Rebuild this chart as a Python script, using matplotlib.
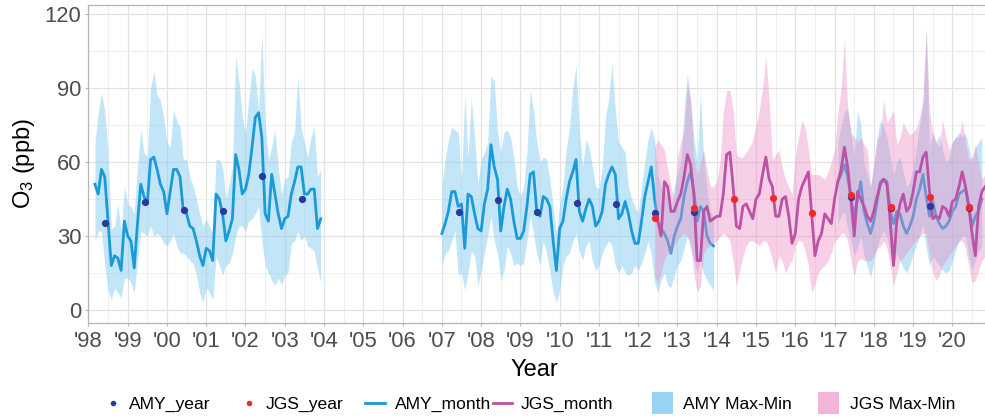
import numpy as np
import matplotlib
matplotlib.use("Agg")
import matplotlib.pyplot as plt
from matplotlib.lines import Line2D
from matplotlib.patches import Rectangle

plt.rcParams['font.family'] = ['Liberation Sans', 'DejaVu Sans']
plt.rcParams['mathtext.fontset'] = 'custom'
plt.rcParams['mathtext.rm'] = 'Liberation Sans'
plt.rcParams['mathtext.it'] = 'Liberation Sans'
plt.rcParams['mathtext.bf'] = 'Liberation Sans'

# ---------------- data ----------------
# AMY monthly, segment 1: Mar 1998 - Dec 2003
amy1_start = (1998, 3)
amy1_mean = [51, 47, 57, 54, 36, 18, 22, 21, 16, 36,
             30, 28, 17, 35, 51, 46, 43, 61, 62, 57, 51, 48,
             39, 48, 57, 57, 54, 40, 39, 34, 33, 28, 22, 18,
             25, 24, 20, 47, 45, 39, 28, 32, 37, 63, 57, 47,
             49, 55, 66, 78, 80, 70, 39, 36, 55, 47, 39, 33,
             37, 38, 47, 52, 58, 58, 47, 47, 49, 49, 33, 37]
amy1_max = [67, 80, 88, 81, 64, 33, 34, 43, 32, 50,
            43, 42, 39, 58, 73, 64, 62, 90, 97, 87, 85, 78,
            68, 66, 81, 77, 74, 61, 61, 54, 50, 45, 39, 34,
            37, 34, 31, 61, 61, 58, 45, 51, 58, 103, 93, 78,
            72, 85, 98, 95, 81, 112, 76, 61, 66, 73, 58, 47,
            53, 54, 68, 72, 95, 74, 68, 62, 70, 74, 54, 57]
amy1_min = [28, 32, 32, 18, 8, 4, 9, 7, 5, 13,
            13, 11, 7, 20, 32, 31, 30, 34, 30, 31, 30, 27,
            26, 28, 31, 26, 23, 23, 22, 20, 19, 14, 7, 3,
            9, 7, 4, 22, 18, 14, 18, 19, 23, 30, 34, 34,
            32, 36, 37, 39, 42, 28, 18, 15, 12, 10, 13, 10,
            14, 15, 27, 28, 32, 28, 30, 26, 25, 24, 17, 11]

# AMY monthly, segment 2: Jan 2007 - Dec 2013
amy2_start = (2007, 1)
amy2_mean = [31, 35, 40, 48, 48, 42, 43, 25, 47, 46, 39, 33,
             32, 43, 49, 67, 58, 53, 32, 42, 49, 45, 36, 29,
             29, 32, 42, 55, 56, 40, 38, 46, 45, 42, 28, 16,
             33, 36, 45, 52, 56, 61, 40, 36, 41, 45, 42, 34,
             36, 40, 51, 55, 58, 55, 37, 39, 44, 39, 32, 27,
             27, 36, 46, 52, 58, 45, 36, 33, 31, 28, 23, 30,
             34, 37, 46, 52, 56, 48, 36, 42, 40, 30, 27, 26]
amy2_max = [50, 61, 69, 74, 73, 72, 53, 87, 62, 86, 70, 51,
            61, 64, 68, 95, 93, 72, 64, 72, 73, 70, 62, 50,
            46, 50, 64, 89, 81, 68, 60, 62, 61, 53, 42, 31,
            43, 50, 65, 74, 90, 99, 73, 58, 69, 66, 58, 50,
            49, 58, 78, 86, 100, 81, 68, 66, 64, 50, 45, 42,
            39, 50, 60, 69, 74, 69, 55, 50, 48, 45, 40, 50,
            55, 60, 80, 96, 85, 70, 60, 88, 62, 50, 40, 38]
amy2_min = [18, 23, 24, 28, 32, 14, 15, 8, 15, 24, 22, 10,
            16, 23, 30, 38, 28, 23, 12, 16, 26, 23, 18, 19,
            18, 19, 28, 38, 31, 23, 18, 28, 23, 16, 7, 3,
            8, 18, 22, 23, 28, 31, 24, 20, 26, 28, 20, 16,
            18, 23, 26, 28, 26, 18, 15, 18, 15, 14, 15, 18,
            16, 19, 23, 28, 23, 11, 7, 12, 15, 10, 9, 14,
            18, 20, 25, 30, 25, 20, 15, 20, 15, 12, 10, 8]

# AMY monthly, segment 3: Feb 2017 - Oct 2020
amy3_start = (2017, 2)
amy3_mean = [52, 55, 59, 54, 45, 38, 45, 52, 40, 35, 31,
             36, 44, 52, 53, 52, 40, 35, 40, 39, 34, 31, 34,
             38, 45, 49, 55, 46, 38, 44, 38, 35, 33, 34, 36,
             40, 42, 47, 48, 49, 42, 34, 38, 40, 45]
amy3_max = [68, 75, 80, 82, 72, 62, 81, 75, 60, 55, 50,
            58, 70, 77, 74, 70, 62, 55, 60, 62, 56, 50, 52,
            58, 66, 75, 85, 113, 66, 72, 68, 71, 65, 60, 62,
            68, 70, 72, 70, 72, 66, 60, 66, 68, 70]
amy3_min = [35, 38, 40, 33, 28, 22, 25, 30, 22, 18, 13,
            20, 25, 30, 32, 30, 22, 18, 23, 20, 17, 15, 18,
            23, 26, 30, 35, 25, 18, 22, 20, 18, 16, 15, 16,
            20, 24, 28, 30, 30, 22, 16, 20, 24, 26]

# JGS monthly: Jun 2012 - Nov 2020
jgs_start = (2012, 6)
jgs_mean = [40, 36, 30, 52, 50, 40, 40,
            44, 47, 54, 63, 59, 47, 20, 20, 40, 42, 36, 37,
            38, 38, 47, 63, 64, 50, 34, 33, 42, 43, 40, 37,
            45, 47, 55, 62, 53, 50, 38, 38, 45, 46, 38, 27,
            31, 45, 50, 53, 56, 39, 22, 28, 31, 39, 37, 35,
            45, 52, 57, 66, 58, 45, 30, 48, 45, 42, 38, 36,
            40, 46, 51, 53, 51, 36, 18, 36, 43, 47, 40, 42,
            48, 56, 56, 62, 64, 48, 37, 38, 37, 42, 41, 38,
            44, 45, 50, 56, 50, 42, 31, 22, 42, 48, 50]
jgs_max = [66, 69, 67, 65, 57, 50, 46,
           62, 68, 73, 92, 85, 62, 55, 60, 65, 57, 50, 50,
           52, 60, 80, 89, 89, 81, 63, 62, 62, 64, 66, 69,
           75, 81, 90, 103, 85, 61, 63, 65, 58, 53, 50, 47,
           62, 70, 77, 74, 65, 55, 55, 55, 54, 53, 56, 60,
           65, 80, 90, 110, 81, 72, 70, 68, 70, 67, 65, 50,
           60, 69, 71, 85, 76, 78, 81, 67, 70, 76, 73, 71,
           72, 74, 78, 85, 115, 80, 72, 68, 66, 77, 70, 65,
           68, 70, 70, 77, 68, 61, 62, 67, 60, 53, 55]
jgs_min = [13.5, 11, 15, 20, 23, 23, 26,
           28, 30, 31, 30, 27, 15, 7, 9.5, 23, 25, 26, 27,
           28, 30, 31, 30, 28, 20, 9.5, 16, 22, 26, 28, 28,
           27, 26, 28, 28, 25, 20, 15, 22, 20, 15, 18, 20,
           26, 28, 28, 24, 18, 7, 10, 15, 17, 18, 20, 23,
           28, 29, 31, 31, 28, 20, 13.5, 20, 21, 20, 20, 20,
           22, 25, 26, 28, 25, 18, 9.5, 15, 20, 21, 23, 25,
           27, 28, 30, 31, 31, 22, 15, 12, 14, 18, 20, 22,
           24, 26, 28, 28, 25, 18, 11, 12, 16, 20, 22]

# yearly means
amy_years = [1998, 1999, 2000, 2001, 2002, 2003,
             2007, 2008, 2009, 2010, 2011, 2012, 2013,
             2017, 2018, 2019, 2020]
amy_year_vals = [35.4, 43.8, 40.4, 40.0, 54.3, 45.1,
                 39.9, 44.6, 39.7, 43.2, 43.1, 39.5, 39.6,
                 46.0, 41.5, 42.2, 41.2]
jgs_years = [2012, 2013, 2014, 2015, 2016, 2017, 2018, 2019, 2020]
jgs_year_vals = [37.4, 41.2, 44.9, 45.5, 39.2, 46.6, 41.9, 46.0, 41.6]

year_ticks = list(range(1998, 2021))
year_tick_labels = ["'%02d" % (y % 100) for y in year_ticks]
y_ticks = [0, 30, 60, 90, 120]


def month_x(start, n):
    y0, m0 = start
    return y0 + (m0 - 1) / 12.0 + np.arange(n) / 12.0


# ---------------- styles ----------------
AMY_LINE = '#1a9ad8'
AMY_FILL = '#87cef0'
JGS_LINE = '#bc52a6'
JGS_FILL = '#ec8dc4'
AMY_DOT = '#2a3a9c'
JGS_DOT = '#f02a2a'
GRID = '#e2e2e2'
SPINE = '#b5b5b5'

W, H = 985, 418
fig = plt.figure(figsize=(W / 100, H / 100), dpi=100)
ax = fig.add_axes([88 / W, 1 - 323 / H, 897 / W, (323 - 4.7) / H])

# AMY bands + lines
for start, mean, lo, hi in [(amy1_start, amy1_mean, amy1_min, amy1_max),
                            (amy2_start, amy2_mean, amy2_min, amy2_max),
                            (amy3_start, amy3_mean, amy3_min, amy3_max)]:
    x = month_x(start, len(mean))
    ax.fill_between(x, lo, hi, color=AMY_FILL, alpha=0.5, lw=0, zorder=2)
for start, mean in [(amy1_start, amy1_mean), (amy2_start, amy2_mean), (amy3_start, amy3_mean)]:
    x = month_x(start, len(mean))
    ax.plot(x, mean, color=AMY_LINE, lw=2.0, zorder=3, solid_joinstyle='round')

# JGS band + line
xj = month_x(jgs_start, len(jgs_mean))
ax.fill_between(xj, jgs_min, jgs_max, color=JGS_FILL, alpha=0.42, lw=0, zorder=4)
ax.plot(xj, jgs_mean, color=JGS_LINE, lw=2.0, zorder=5, solid_joinstyle='round')

# yearly dots
ax.plot(np.array(amy_years) + 0.43, amy_year_vals, 'o', color=AMY_DOT, ms=5.2, mew=0, zorder=6)
ax.plot(np.array(jgs_years) + 0.43, jgs_year_vals, 'o', color=JGS_DOT, ms=5.2, mew=0, zorder=7)

# axes
ax.set_xlim(1997.99, 2020.83)
ax.set_ylim(-5.3, 123.8)
ax.set_xticks(year_ticks)
ax.set_xticklabels(year_tick_labels)
ax.set_xticks(np.array(year_ticks) + 0.5, minor=True)
ax.set_yticks(y_ticks)
ax.set_yticks([15, 45, 75, 105], minor=True)
ax.grid(True, which='major', color=GRID, lw=0.9, zorder=0)
ax.grid(True, which='minor', color='#ececec', lw=0.6, zorder=0)
ax.set_axisbelow(True)
for s in ['left', 'bottom', 'top']:
    ax.spines[s].set_color(SPINE)
    ax.spines[s].set_linewidth(0.9)
ax.spines['right'].set_visible(False)
ax.tick_params(which='major', length=2.5, color=SPINE, labelsize=15.8,
               labelcolor='#4d4d4d', pad=2.2)
ax.tick_params(axis='x', which='major', pad=3)
ax.tick_params(which='minor', length=0)

ax.set_xlabel('Year', fontsize=17, color='black')
ax.xaxis.set_label_coords(0.498, -0.113)
ax.set_ylabel('O$_3$ (ppb)', fontsize=17, color='black')
ax.yaxis.set_label_coords(-0.0565, 0.5)

# ---------------- legend (manual, pixel placement) ----------------
def fx(px):
    return px / W


def fy(py):
    return 1 - py / H


ly = 402.5
lfs = 12.6
fig.add_artist(Line2D([fx(113)], [fy(ly)], marker='o', color=AMY_DOT, ms=4, mew=0,
                      transform=fig.transFigure))
fig.text(fx(129), fy(408.6), 'AMY_year', fontsize=lfs, va='baseline')
fig.add_artist(Line2D([fx(249)], [fy(ly)], marker='o', color=JGS_DOT, ms=4, mew=0,
                      transform=fig.transFigure))
fig.text(fx(266), fy(408.6), 'JGS_year', fontsize=lfs, va='baseline')
fig.add_artist(Line2D([fx(365), fx(385)], [fy(ly), fy(ly)], color=AMY_LINE, lw=2.0,
                      transform=fig.transFigure))
fig.text(fx(395), fy(408.6), 'AMY_month', fontsize=lfs, va='baseline')
fig.add_artist(Line2D([fx(493), fx(512)], [fy(ly), fy(ly)], color=JGS_LINE, lw=2.0,
                      transform=fig.transFigure))
fig.text(fx(521), fy(408.6), 'JGS_month', fontsize=lfs, va='baseline')
fig.add_artist(Rectangle((fx(652), fy(414)), 21 / W, 22 / H, facecolor=AMY_FILL,
                         edgecolor='none', alpha=0.85, transform=fig.transFigure))
fig.text(fx(683), fy(408.6), 'AMY Max-Min', fontsize=lfs, va='baseline')
fig.add_artist(Rectangle((fx(818), fy(414)), 21 / W, 22 / H, facecolor=JGS_FILL,
                         edgecolor='none', alpha=0.65, transform=fig.transFigure))
fig.text(fx(850), fy(408.6), 'JGS Max-Min', fontsize=lfs, va='baseline')

fig.savefig('out.png', dpi=100)
